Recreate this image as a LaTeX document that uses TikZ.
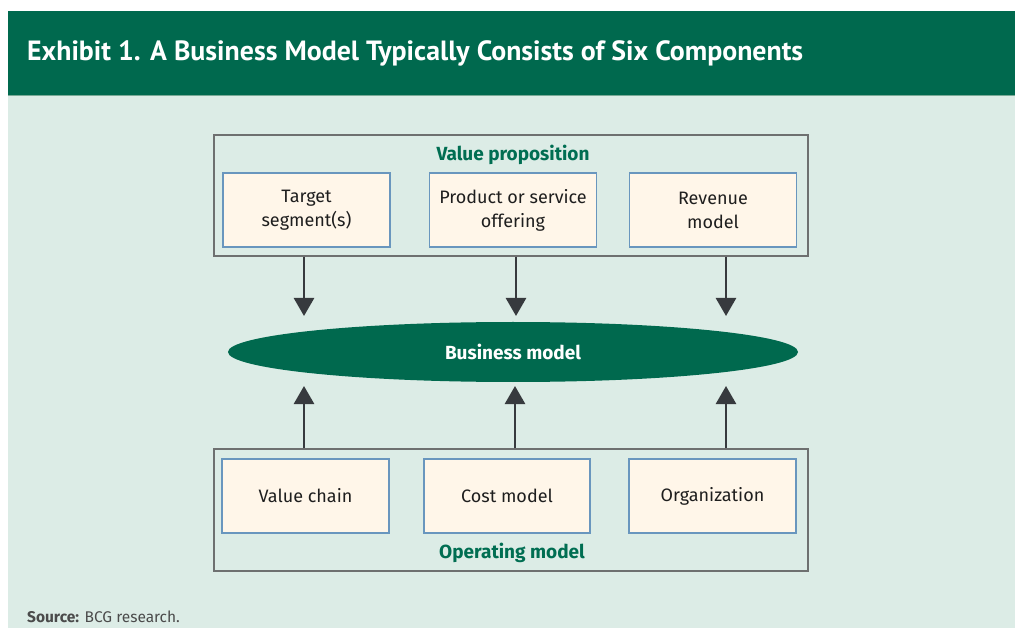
\documentclass[tikz,border=0pt]{standalone}
\usepackage{fontspec}
\setmainfont{Fira Sans}
\newfontfamily\headfont{PT Sans}
\usetikzlibrary{arrows.meta,shapes.geometric}

\definecolor{bcggreen}{RGB}{0,105,78}
\definecolor{mint}{RGB}{220,236,230}
\definecolor{mintline}{RGB}{120,170,150}
\definecolor{cream}{RGB}{255,246,233}
\definecolor{boxblue}{RGB}{105,150,190}
\definecolor{framegray}{RGB}{110,112,112}
\definecolor{arrowgray}{RGB}{55,58,62}
\definecolor{inktext}{RGB}{30,30,30}
\definecolor{labelgreen}{RGB}{0,110,82}

\tikzset{
  frame/.style={draw=framegray, line width=1.2pt, fill=none, inner sep=0pt},
  part/.style={draw=boxblue, line width=1.2pt, fill=cream, inner sep=0pt,
    minimum width=167pt, minimum height=74pt, align=center,
    text=inktext, font=\fontsize{18}{24}\selectfont},
  grouplabel/.style={text=labelgreen, font=\fontsize{19}{20}\selectfont\bfseries, inner sep=0pt},
  feed/.style={draw=arrowgray, line width=2.6pt,
    -{Triangle[width=20pt,length=18pt]}},
  core/.style={ellipse, fill=bcggreen, inner sep=0pt, minimum width=570pt,
    minimum height=60pt, text=white, font=\fontsize{19}{20}\selectfont\bfseries}
}

\begin{document}
\begin{tikzpicture}[x=1pt,y=-1pt]
  % canvas
  \useasboundingbox (0,0) rectangle (1015,628);
  \fill[white] (0,0) rectangle (1015,628);
  \fill[mint] (8,95) rectangle (1015,628);
  \fill[bcggreen] (8,11) rectangle (1015,95);
  \draw[mintline, line width=1pt] (8,95.5) -- (1015,95.5);

  % heading
  \node[anchor=west, text=white, inner sep=0pt] (title) at (27,53)
    {\resizebox{776pt}{!}{\headfont\fontsize{22}{24}\selectfont\bfseries
      Exhibit 1. A Business Model Typically Consists of Six Components}};

  % value proposition group
  \node[frame, minimum width=594pt, minimum height=121pt] (vp) at (511,195.5) {};
  \node[grouplabel] (vplabel) at (513,155) {Value proposition};
  \node[part] (seg) at (306.5,210) {Target\\segment(s)};
  \node[part] (offer) at (513,210) {Product or service\\offering};
  \node[part] (rev) at (713,210) {Revenue\\model};

  % business model
  \node[core] (bm) at (513,352) {Business model};

  % operating model group
  \node[frame, minimum width=594pt, minimum height=122pt] (om) at (511,510) {};
  \node[grouplabel] (omlabel) at (512,553) {Operating model};
  \node[part] (chain) at (305.5,496) {Value chain};
  \node[part, minimum width=166pt] (cost) at (507,496) {Cost model};
  \node[part] (org) at (712.5,496) {Organization};

  % arrow ends just short of the ellipse
  \coordinate (d1) at (304,316);
  \coordinate (d2) at (516,316);
  \coordinate (d3) at (726,316);
  \coordinate (u1) at (304,386);
  \coordinate (u2) at (515,386);
  \coordinate (u3) at (726,386);

  \draw[feed] (vp.south -| d1) -- (d1);
  \draw[feed] (vp.south -| d2) -- (d2);
  \draw[feed] (vp.south -| d3) -- (d3);
  \draw[feed] (om.north -| u1) -- (u1);
  \draw[feed] (om.north -| u2) -- (u2);
  \draw[feed] (om.north -| u3) -- (u3);

  % source note
  \node[anchor=west, inner sep=0pt, text=inktext!80, font=\fontsize{15.5}{17}\selectfont] (src) at (27,617)
    {\textbf{Source:} BCG research.};
\end{tikzpicture}
\end{document}
